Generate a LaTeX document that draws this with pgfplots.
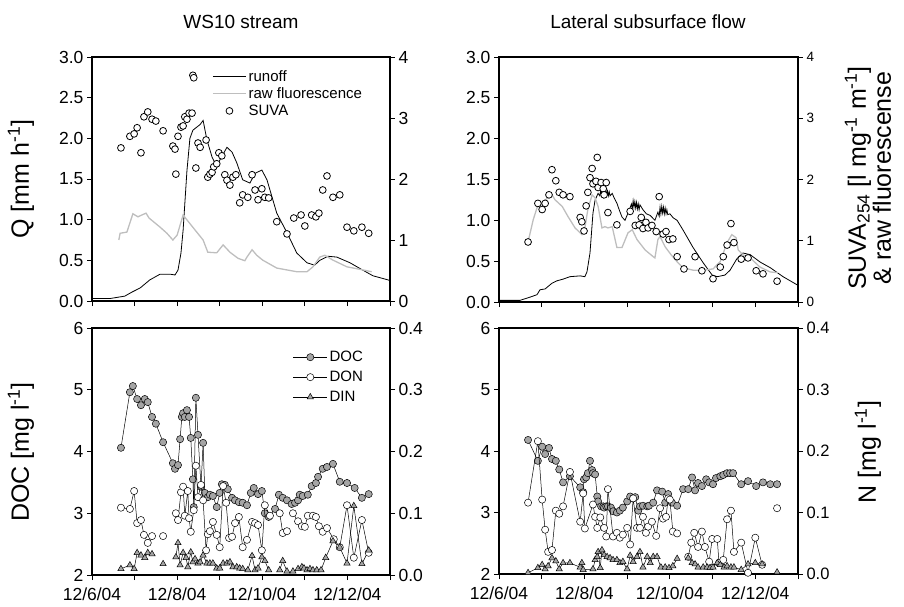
\documentclass[border=0pt]{standalone}
\usepackage{pgfplots}
\pgfplotsset{compat=1.18}
\usepackage{fontspec}
\setmainfont{Liberation Sans}
\definecolor{flgray}{RGB}{190,190,190}
\definecolor{docgray}{RGB}{165,165,165}
\newcommand{\fs}[1]{\fontsize{#1}{#1}\selectfont}
\pgfplotsset{
  base/.style={scale only axis, anchor=south west, xmin=0, xmax=7,
    axis line style={line width=1.2pt, black},
    tick align=outside, major tick length=5pt,
    tick style={line width=0.9pt, black},
    /pgf/number format/assume math mode=true,
    ticklabel style={font=\fs{17.5}},
    xticklabel style={yshift=-4pt},
    scaled y ticks=false, unbounded coords=jump},
  leftax/.style={base, xtick={0,...,7}, xtick pos=bottom, ytick pos=left},
  rightax/.style={base, axis y line*=right, axis x line=none},
  onedec/.style={yticklabel style={/pgf/number format/fixed, /pgf/number format/fixed zerofill, /pgf/number format/precision=1}},
  runoff/.style={black, line width=0.8pt, no marks},
  fluor/.style={flgray, line width=1.3pt, no marks},
  suva/.style={only marks, mark=*, mark size=3.4pt, mark options={draw=black, fill=white, line width=0.8pt}},
  doc/.style={black, line width=0.5pt, mark=*, mark size=3.6pt, mark options={draw=black, fill=docgray, line width=0.5pt}},
  don/.style={black, line width=0.5pt, mark=*, mark size=3.6pt, mark options={draw=black, fill=white, line width=0.5pt}},
  din/.style={black, line width=0.5pt, mark=triangle*, mark size=3.6pt, mark options={draw=black, fill=docgray, line width=0.5pt}},
}
\begin{document}
\begin{tikzpicture}
\path[use as bounding box] (0pt,0pt) rectangle (904pt,-607pt);

% ================= TOP LEFT =================
\begin{axis}[leftax, onedec, at={(92pt,-301pt)}, width=298pt, height=244pt,
  ymin=0, ymax=3, ytick={0,0.5,...,3}, xticklabels={}]
\addplot[runoff] coordinates {(0,0.03)(0.42,0.03)(0.77,0.06)(0.94,0.11)(1.13,0.16)(1.36,0.26)(1.6,0.33)(1.83,0.33)(1.95,0.32)(2.02,0.38)(2.09,0.59)(2.14,0.87)(2.23,1.6)(2.30,2.0)(2.37,2.1)(2.54,2.17)(2.61,2.22)(2.7,1.98)(2.82,1.77)(2.93,1.65)(3.0,1.73)(3.17,1.89)(3.29,1.83)(3.4,1.70)(3.54,1.49)(3.71,1.45)(3.83,1.57)(3.99,1.61)(4.11,1.49)(4.34,1.08)(4.58,0.84)(4.81,0.59)(5.05,0.47)(5.23,0.44)(5.35,0.5)(5.54,0.55)(5.75,0.54)(6.06,0.47)(6.36,0.38)(6.6,0.31)(6.95,0.26)(7.0,0.25)};
\end{axis}
\begin{axis}[rightax, at={(92pt,-301pt)}, width=298pt, height=244pt,
  ymin=0, ymax=4, ytick={0,...,4},
  legend image code/.code={\draw[mark repeat=2,mark phase=2,#1] plot coordinates {(0pt,0pt) (16.5pt,0pt) (33pt,0pt)};},
  legend style={draw=none, fill=none, font=\fs{15}, at={(0.403,0.955)}, anchor=north west, legend cell align=left, row sep=1pt, inner sep=0pt}]
\addlegendimage{runoff}
\addlegendentry{runoff}
\addplot[fluor] coordinates {(0.63,1.0)(0.66,1.11)(0.82,1.13)(0.96,1.43)(1.08,1.38)(1.17,1.41)(1.27,1.44)(1.34,1.36)(1.6,1.21)(1.76,1.11)(1.9,1.0)(2.0,1.08)(2.14,1.41)(2.23,1.33)(2.46,1.13)(2.61,1.0)(2.72,0.80)(2.93,0.79)(3.08,0.92)(3.24,0.80)(3.43,0.70)(3.59,0.66)(3.64,0.72)(3.76,0.84)(3.87,0.75)(4.01,0.67)(4.34,0.54)(4.81,0.48)(5.05,0.48)(5.19,0.56)(5.35,0.72)(5.47,0.75)(5.66,0.67)(5.99,0.56)(6.36,0.51)(6.57,0.48)};
\addlegendentry{raw fluorescence}
\addplot[suva] coordinates {(0.68,2.51)(0.89,2.70)(0.99,2.74)(1.06,2.84)(1.15,2.43)(1.22,3.02)(1.31,3.10)(1.41,2.98)(1.50,2.95)(1.67,2.79)(1.90,2.54)(1.95,2.49)(1.97,2.08)(2.02,2.70)(2.09,2.85)(2.14,2.87)(2.18,3.02)(2.23,2.98)(2.28,3.08)(2.35,3.08)(2.37,3.70)(2.39,3.66)(2.44,2.18)(2.49,2.59)(2.54,2.52)(2.68,2.64)(2.72,2.03)(2.77,2.08)(2.82,2.11)(2.86,2.20)(2.93,2.25)(2.98,2.43)(3.05,2.38)(3.12,2.07)(3.17,1.98)(3.24,1.90)(3.31,2.03)(3.38,2.07)(3.47,1.61)(3.54,1.74)(3.66,1.70)(3.76,2.07)(3.83,1.82)(3.90,1.66)(3.99,1.84)(4.06,1.70)(4.15,1.69)(4.34,1.30)(4.58,1.10)(4.74,1.36)(4.91,1.41)(5.00,1.23)(5.16,1.41)(5.26,1.38)(5.33,1.44)(5.42,1.82)(5.52,2.05)(5.66,1.70)(5.82,1.74)(5.99,1.21)(6.15,1.15)(6.34,1.21)(6.50,1.11)};
\addlegendentry{SUVA}
\end{axis}

% ================= TOP RIGHT =================
\begin{axis}[leftax, onedec, at={(499pt,-302pt)}, width=299pt, height=245pt,
  ymin=0, ymax=3, ytick={0,0.5,...,3}, xticklabels={}]
\addplot[runoff] coordinates {(0,0.02)(0.49,0.02)(0.73,0.06)(0.89,0.09)(0.96,0.15)(1.08,0.16)(1.24,0.23)(1.36,0.26)(1.5,0.28)(1.66,0.31)(1.9,0.32)(2.01,0.31)(2.06,0.37)(2.13,0.60)(2.20,1.09)(2.25,1.25)(2.32,1.33)(2.36,1.30)(2.38,1.37)(2.40,1.31)(2.42,1.38)(2.44,1.30)(2.46,1.38)(2.48,1.31)(2.50,1.37)(2.52,1.31)(2.54,1.36)(2.56,1.30)(2.58,1.35)(2.60,1.30)(2.65,1.33)(2.70,1.27)(2.76,1.21)(2.82,1.12)(2.88,1.04)(2.95,1.0)(3.02,1.09)(3.06,1.14)(3.10,1.20)(3.12,1.14)(3.14,1.24)(3.16,1.16)(3.18,1.23)(3.20,1.15)(3.22,1.22)(3.24,1.14)(3.26,1.20)(3.28,1.13)(3.30,1.19)(3.37,1.13)(3.45,1.08)(3.54,1.06)(3.65,1.0)(3.72,1.10)(3.75,1.05)(3.77,1.16)(3.79,1.08)(3.81,1.17)(3.83,1.09)(3.85,1.16)(3.87,1.08)(3.89,1.15)(3.91,1.08)(3.93,1.13)(3.95,1.07)(4.0,1.08)(4.08,1.03)(4.17,1.0)(4.31,0.88)(4.54,0.67)(4.78,0.48)(4.99,0.33)(5.11,0.31)(5.29,0.33)(5.41,0.39)(5.57,0.53)(5.71,0.60)(5.88,0.58)(6.11,0.49)(6.35,0.42)(6.65,0.31)(6.98,0.21)(7.0,0.21)};
\end{axis}
\begin{axis}[rightax, at={(499pt,-302pt)}, width=299pt, height=245pt,
  ymin=0, ymax=4, ytick={0,...,4}, yticklabel style={font=\fs{13.5}}]
\addplot[fluor] coordinates {(0.68,0.98)(0.80,1.34)(0.89,1.54)(1.03,1.64)(1.24,1.75)(1.31,1.67)(1.48,1.56)(1.62,1.39)(1.78,1.21)(1.94,1.10)(2.01,1.21)(2.08,1.51)(2.18,1.75)(2.25,1.70)(2.32,1.56)(2.41,1.21)(2.48,1.23)(2.55,1.21)(2.65,1.23)(2.76,0.89)(2.88,0.89)(3.02,1.13)(3.12,1.18)(3.23,1.02)(3.42,0.85)(3.61,0.74)(3.65,0.72)(3.72,1.02)(3.77,1.07)(3.89,0.90)(4.03,0.77)(4.19,0.64)(4.31,0.56)(4.54,0.52)(4.78,0.52)(5.01,0.54)(5.18,0.66)(5.34,0.97)(5.45,1.10)(5.55,1.05)(5.60,0.85)(5.71,0.77)(5.88,0.72)(6.11,0.57)(6.35,0.49)(6.53,0.48)};
\addplot[suva] coordinates {(0.68,0.98)(0.91,1.61)(1.01,1.51)(1.08,1.61)(1.17,1.75)(1.24,2.16)(1.33,1.98)(1.41,1.79)(1.50,1.75)(1.66,1.72)(1.90,1.38)(1.94,1.31)(1.99,1.16)(2.04,1.57)(2.08,1.79)(2.13,2.03)(2.18,2.18)(2.30,2.36)(2.20,1.93)(2.27,1.97)(2.32,1.87)(2.39,1.95)(2.44,1.85)(2.46,1.75)(2.51,1.95)(2.55,1.46)(2.76,1.26)(3.07,1.48)(3.19,1.25)(3.28,1.26)(3.33,1.38)(3.37,1.20)(3.44,1.30)(3.49,1.21)(3.58,1.25)(3.68,1.15)(3.75,1.72)(3.84,1.11)(3.91,1.15)(3.98,1.02)(4.07,1.03)(4.17,0.74)(4.33,0.54)(4.59,0.74)(4.75,0.51)(5.01,0.38)(5.18,0.57)(5.25,0.74)(5.34,0.93)(5.43,1.28)(5.50,0.97)(5.67,0.70)(5.83,0.72)(6.02,0.51)(6.18,0.46)(6.51,0.34)};
\end{axis}

% ================= BOTTOM LEFT =================
\begin{axis}[leftax, at={(92pt,-575pt)}, width=298pt, height=247pt,
  ymin=2, ymax=6, ytick={2,...,6},
  xticklabels={12/6/04,{},12/8/04,{},12/10/04,{},12/12/04,{}}]
\addplot[doc] coordinates {(0.68,4.06)(0.89,4.96)(0.96,5.06)(1.06,4.85)(1.15,4.75)(1.24,4.85)(1.31,4.80)(1.41,4.56)(1.50,4.45)(1.67,4.15)(1.90,3.81)(1.95,3.72)(2.02,3.78)(2.07,4.20)(2.11,4.56)(2.14,4.62)(2.18,4.56)(2.23,4.67)(2.28,4.56)(2.32,4.22)(2.37,3.55)(2.39,3.10)(2.44,4.87)(2.49,4.27)(2.56,3.43)(2.61,4.14)(2.65,3.33)(2.72,3.26)(2.77,3.30)(2.84,3.28)(2.93,3.10)(3.00,3.33)(3.05,3.47)(3.12,3.46)(3.19,3.39)(3.29,3.25)(3.36,3.21)(3.45,3.18)(3.54,3.17)(3.64,3.13)(3.73,3.33)(3.80,3.41)(3.90,3.31)(3.99,3.36)(4.06,3.00)(4.15,2.94)(4.30,3.07)(4.39,3.30)(4.48,3.25)(4.58,3.21)(4.69,3.15)(4.77,3.17)(4.84,3.21)(4.88,3.30)(4.95,3.28)(5.07,3.30)(5.16,3.44)(5.26,3.49)(5.31,3.59)(5.42,3.72)(5.52,3.75)(5.66,3.80)(5.82,3.51)(5.99,3.49)(6.17,3.41)(6.34,3.25)(6.50,3.31)};
\end{axis}
\begin{axis}[rightax, onedec, at={(92pt,-575pt)}, width=298pt, height=247pt,
  ymin=0, ymax=0.4, ytick={0,0.1,...,0.4},
  legend image code/.code={\draw[mark repeat=2,mark phase=2,#1] plot coordinates {(0pt,0pt) (17pt,0pt) (34pt,0pt)};},
  legend style={draw=none, fill=none, font=\fs{15}, at={(0.674,0.915)}, anchor=north west, legend cell align=left, row sep=4pt, inner sep=0pt}]
\addlegendimage{doc}
\addlegendentry{DOC}
\addplot[don] coordinates {(0.68,0.109)(0.89,0.107)(0.99,0.136)(1.06,0.084)(1.15,0.089)(1.22,0.065)(1.31,0.052)(1.41,0.063)(1.5,nan)(1.67,0.063)(1.8,nan)(1.97,0.100)(2.02,0.089)(2.09,0.134)(2.14,0.143)(2.18,0.096)(2.25,0.136)(2.28,0.092)(2.32,0.070)(2.39,0.105)(2.44,0.177)(2.49,0.126)(2.56,0.146)(2.61,0.121)(2.68,0.040)(2.72,0.066)(2.77,0.071)(2.84,0.086)(2.93,0.065)(3.00,0.045)(3.08,0.144)(3.15,0.117)(3.22,0.060)(3.29,0.062)(3.36,0.084)(3.45,0.094)(3.54,0.045)(3.64,0.057)(3.76,0.086)(3.83,0.084)(3.90,0.081)(3.99,0.040)(4.06,0.113)(4.18,0.096)(4.3,nan)(4.41,0.100)(4.48,0.068)(4.58,0.071)(4.65,nan)(4.72,0.100)(4.84,0.087)(4.93,0.079)(5.00,0.078)(5.07,0.096)(5.19,0.096)(5.26,0.094)(5.33,0.079)(5.42,0.070)(5.52,0.076)(5.68,0.058)(5.82,0.045)(5.99,0.113)(6.15,0.028)(6.34,0.089)(6.50,0.036)};
\addlegendentry{DON}
\addplot[din] coordinates {(0.68,0.010)(0.89,0.016)(0.99,0.010)(1.06,0.036)(1.15,0.032)(1.24,0.028)(1.31,0.036)(1.41,0.034)(1.5,nan)(1.67,0.018)(1.8,nan)(1.97,0.029)(2.02,0.052)(2.07,0.016)(2.14,0.036)(2.21,0.028)(2.25,0.013)(2.32,0.037)(2.37,0.021)(2.42,0.026)(2.49,0.019)(2.54,0.021)(2.61,0.032)(2.70,0.019)(2.77,0.019)(2.84,0.019)(2.93,0.011)(3.00,0.011)(3.08,0.019)(3.17,0.019)(3.24,0.021)(3.31,0.013)(3.40,0.013)(3.47,0.011)(3.54,0.010)(3.66,0.008)(3.76,0.031)(3.83,0.008)(3.90,0.011)(3.99,0.029)(4.06,0.023)(4.15,0.008)(4.3,nan)(4.41,0.008)(4.48,0.023)(4.58,0.006)(4.65,nan)(4.72,0.006)(4.84,0.010)(4.93,0.013)(4.98,0.011)(5.05,0.008)(5.12,0.010)(5.19,0.008)(5.28,0.008)(5.38,0.008)(5.49,0.028)(5.66,0.055)(5.82,0.045)(5.99,0.019)(6.15,0.112)(6.34,0.018)(6.50,0.040)};
\addlegendentry{DIN}
\end{axis}

% ================= BOTTOM RIGHT =================
\begin{axis}[leftax, at={(499pt,-574pt)}, width=299pt, height=246pt,
  ymin=2, ymax=6, ytick={2,...,6},
  xticklabels={12/6/04,{},12/8/04,{},12/10/04,{},12/12/04,{}}]
\addplot[doc] coordinates {(0.68,4.18)(0.91,3.84)(1.01,4.07)(1.08,3.95)(1.17,4.05)(1.24,3.87)(1.33,3.84)(1.41,3.70)(1.50,3.49)(1.66,3.59)(1.90,3.41)(1.97,3.33)(1.99,3.54)(2.04,3.57)(2.08,3.64)(2.13,3.84)(2.18,3.69)(2.20,3.64)(2.25,3.62)(2.30,3.26)(2.32,3.18)(2.39,3.10)(2.44,3.10)(2.46,3.08)(2.51,3.10)(2.55,3.10)(2.62,3.08)(2.67,3.02)(2.76,3.00)(2.83,3.03)(2.90,3.08)(3.00,3.18)(3.07,3.26)(3.14,3.23)(3.19,3.25)(3.26,3.03)(3.30,3.10)(3.37,3.11)(3.47,3.10)(3.51,3.11)(3.61,3.16)(3.70,3.36)(3.82,3.34)(3.89,3.16)(3.96,3.30)(4.05,3.16)(4.17,3.11)(4.31,3.38)(4.43,3.38)(4.52,3.57)(4.59,3.36)(4.66,3.48)(4.75,3.43)(4.85,3.54)(4.92,3.49)(5.01,3.46)(5.08,3.56)(5.18,3.59)(5.25,3.61)(5.34,3.64)(5.41,3.64)(5.48,3.64)(5.67,3.46)(5.83,3.51)(6.02,3.43)(6.18,3.49)(6.35,3.46)(6.51,3.46)};
\end{axis}
\begin{axis}[rightax, onedec, at={(499pt,-574pt)}, width=299pt, height=246pt,
  ymin=0, ymax=0.4, ytick={0,0.1,...,0.4}, yticklabel style={font=\fs{16.5}}]
\addplot[don] coordinates {(0.68,0.116)(0.91,0.216)(1.01,0.121)(1.08,0.072)(1.15,0.036)(1.24,0.039)(1.33,0.103)(1.41,0.098)(1.50,0.110)(1.66,0.166)(1.90,0.085)(1.97,0.131)(2.01,0.074)(2.20,0.113)(2.25,0.093)(2.30,0.075)(2.37,0.092)(2.46,0.075)(2.51,0.061)(2.55,0.138)(2.67,0.061)(2.76,0.067)(2.83,0.059)(2.90,0.064)(3.00,0.075)(3.07,0.048)(3.14,0.123)(3.23,0.075)(3.30,0.075)(3.37,0.093)(3.44,0.067)(3.49,0.077)(3.58,0.085)(3.68,0.062)(3.77,0.107)(3.84,0.090)(3.91,0.093)(3.96,0.123)(4.00,0.121)(4.07,0.069)(4.17,0.066)(4.3,nan)(4.43,0.028)(4.50,0.051)(4.57,0.067)(4.66,0.044)(4.75,0.069)(4.82,0.044)(4.92,0.020)(4.99,0.057)(5.11,0.057)(5.15,0.018)(5.25,0.023)(5.34,0.089)(5.43,0.103)(5.50,0.036)(5.67,0.051)(5.83,0.002)(6.00,0.059)(6.16,0.015)(6.3,nan)(6.51,0.107)};
\addplot[din] coordinates {(0.68,0.002)(0.91,0.010)(1.01,0.015)(1.08,0.008)(1.15,0.013)(1.24,0.026)(1.33,0.021)(1.41,0.008)(1.50,0.018)(1.66,0.018)(1.90,0.011)(1.94,0.018)(1.97,0.007)(2.20,0.008)(2.25,0.023)(2.30,0.028)(2.32,0.036)(2.37,0.010)(2.41,0.039)(2.46,0.031)(2.53,0.028)(2.60,0.026)(2.67,0.023)(2.76,0.023)(2.83,0.018)(2.90,0.020)(3.00,0.008)(3.07,0.030)(3.14,0.020)(3.23,0.028)(3.30,0.036)(3.37,0.011)(3.47,0.028)(3.54,0.018)(3.61,0.028)(3.70,0.028)(3.79,0.011)(3.89,0.011)(3.98,0.010)(4.07,0.013)(4.17,0.025)(4.3,nan)(4.43,0.026)(4.52,0.018)(4.59,0.016)(4.66,0.011)(4.78,0.011)(4.87,0.011)(4.94,0.010)(5.01,0.011)(5.11,0.018)(5.18,0.015)(5.27,0.011)(5.34,0.013)(5.43,0.011)(5.50,0.011)(5.67,0.007)(5.83,0.016)(6.00,0.018)(6.16,0.016)(6.3,nan)(6.51,0.003)};
\end{axis}

% ================= TEXT =================
\node[font=\fs{19}] at (241pt,-22pt) {WS10 stream};
\node[font=\fs{19}] at (648pt,-22pt) {Lateral subsurface flow};
\node[rotate=90, font=\fs{25}] at (21pt,-179pt) {Q [mm h\textsuperscript{-1}]};
\node[rotate=90, font=\fs{25}] at (21pt,-452pt) {DOC [mg l\textsuperscript{-1}]};
\node[rotate=90, font=\fs{25}, align=center] at (868pt,-178pt) {SUVA\textsubscript{254} [l mg\textsuperscript{-1} m\textsuperscript{-1}]\\[0pt] \& raw fluorescense};
\node[rotate=90, font=\fs{25}] at (868pt,-452pt) {N [mg l\textsuperscript{-1}]};
\end{tikzpicture}
\end{document}
